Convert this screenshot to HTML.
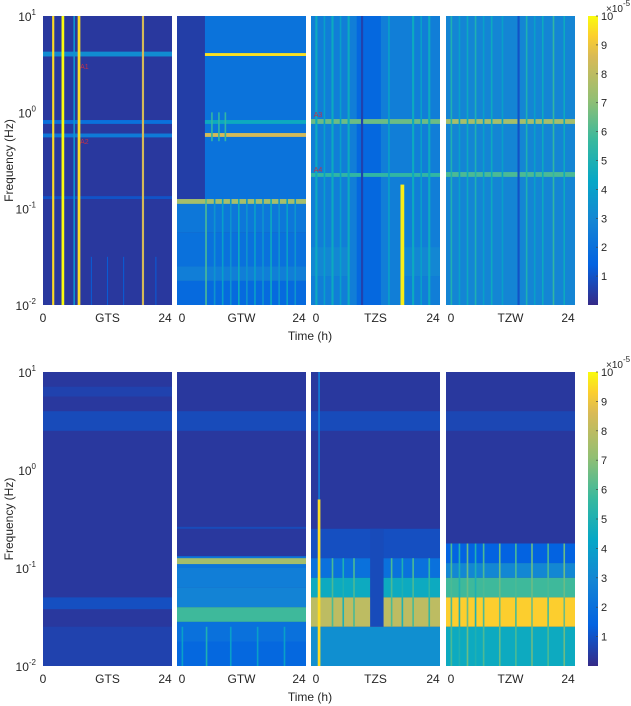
<!DOCTYPE html>
<html><head><meta charset="utf-8"><style>
html,body{margin:0;padding:0;background:#fff;}
svg{display:block;font-family:"Liberation Sans",sans-serif;}
</style></head><body>
<svg id="fig" width="631" height="706" viewBox="0 0 631 706" xmlns="http://www.w3.org/2000/svg">
<defs>
<linearGradient id="parula" x1="0" y1="1" x2="0" y2="0">
<stop offset="0" stop-color="#352a87"/><stop offset="0.14" stop-color="#0363e1"/>
<stop offset="0.29" stop-color="#1485d4"/><stop offset="0.43" stop-color="#06a7c6"/>
<stop offset="0.57" stop-color="#38b99e"/><stop offset="0.71" stop-color="#92bf73"/>
<stop offset="0.86" stop-color="#d9ba56"/><stop offset="0.93" stop-color="#fcce2e"/>
<stop offset="1" stop-color="#f9fb0e"/>
</linearGradient>
</defs>
<g id="plots"></g>
</svg>
<script>
// ---- data (time in h, frequency as log10 Hz, value in 1e-5 units) ----
const panelNames = ["GTS","GTW","TZS","TZW"];
const timeTicks = ["0","24"];
const freqTicks = [1,0,-1,-2];
const cbarTicks = [1,2,3,4,5,6,7,8,9,10];
// bands: [logLow, logHigh, value, tStart, tEnd]
const topGTSBands = [[-2,1,0.35,0,24],[0.58,0.63,3.2,0,24],[-0.12,-0.08,2.0,0,24],[-0.26,-0.22,2.4,0,24],[-0.9,-0.87,1.0,0,24]];
const topGTWBands = [[-2,1,0.5,0,24],[-0.9,1,2.1,5.2,24],[0.585,0.615,9.6,5.2,24],[-0.12,-0.08,4.5,5.2,24],[-0.255,-0.215,8.5,5.2,24],[-1.25,-0.9,2.3,0,24],[-0.95,-0.9,7.5,0,24],[-1.6,-1.25,2.0,0,24],[-1.75,-1.6,2.6,0,24],[-2,-1.75,1.7,0,24]];
const topTZSBands = [[-2,1,2.6,0,24],[-2,1,1.6,8.5,13],[-0.12,-0.07,6.5,0,24],[-0.67,-0.63,5.5,0,24],[-1.7,-1.4,3.0,0,7],[-1.7,-1.4,3.0,17,24]];
const topTZWBands = [[-2,1,2.9,0,24],[-0.12,-0.07,7.5,0,24],[-0.67,-0.62,6,0,24]];
const botGTSBands = [[-2,1,0.35,0,24],[0.4,0.6,0.8,0,24],[0.75,0.85,0.6,0,24],[-1.42,-1.3,0.9,0,24],[-2,-1.6,0.6,0,24]];
const botGTWBands = [[-2,1,0.35,0,24],[0.4,0.6,0.8,0,24],[-0.6,-0.58,0.8,0,24],[-1.0,-0.88,2.2,0,24],[-0.96,-0.9,7.5,0,24],[-1.2,-1.0,2.6,0,24],[-1.4,-1.2,2.8,0,24],[-1.55,-1.4,5.8,0,24],[-1.75,-1.55,2.0,0,24],[-2,-1.75,1.6,0,24]];
const botTZSBands = [[-2,1,0.35,0,24],[0.4,0.6,0.8,0,24],[-0.9,-0.6,0.9,0,24],[-1.1,-0.9,2.0,0,24],[-1.3,-1.1,4.5,0,24],[-1.6,-1.3,8.0,0,24],[-2,-1.6,3.3,0,24],[-1.6,-0.6,0.8,11,13.5]];
const botTZWBands = [[-2,1,0.35,0,24],[0.4,0.6,0.7,0,24],[-0.95,-0.75,1.4,0,24],[-1.1,-0.95,3.0,0,24],[-1.3,-1.1,5.8,0,24],[-1.6,-1.3,9.3,0,24],[-2,-1.6,4.5,0,24]];
// lines: [t, widthHours, value, logLow, logHigh]
const topGTSLines = [[1.9,0.4,9.5,-2,1],[3.7,0.5,10,-2,1],[5.8,0.3,3.5,-2,1],[6.7,0.5,9.5,-2,1],[18.6,0.4,8.5,-2,1],[9,0.2,1.2,-2,-1.5],[12,0.2,1.2,-2,-1.5],[15,0.2,1.2,-2,-1.5],[21,0.2,1.2,-2,-1.5]];
const topGTWLines = [[5.4,0.3,6,-2,-0.9],[7,0.3,3.5,-2,-0.9],[8.5,0.3,4,-2,-0.9],[10,0.3,3.5,-2,-0.9],[11.5,0.3,4.5,-2,-0.9],[13,0.3,3.5,-2,-0.9],[14.5,0.3,4,-2,-0.9],[16,0.3,3.5,-2,-0.9],[17.5,0.3,4.5,-2,-0.9],[19,0.3,3.5,-2,-0.9],[20.5,0.3,4,-2,-0.9],[22,0.3,3.5,-2,-0.9],[6.5,0.3,5.5,-0.3,0],[7.8,0.3,5.5,-0.3,0],[9,0.3,5.5,-0.3,0]];
const topTZSLines = [[1,0.4,4.5,-2,1],[2.5,0.3,4,-2,1],[4,0.4,4.5,-2,1],[5.5,0.3,4,-2,1],[7,0.4,4.5,-2,1],[14.5,0.3,4,-2,1],[19,0.4,4.5,-2,1],[20.5,0.3,4,-2,1],[22,0.4,4.5,-2,1],[9.5,0.4,0.6,-2,1],[17,0.7,9.8,-2,-0.75]];
const topTZWLines = [[1,0.3,5,-2,1],[2.5,0.3,4,-2,1],[4,0.3,4.5,-2,1],[5.5,0.3,5,-2,1],[7,0.3,4,-2,1],[8.5,0.3,4.5,-2,1],[10.5,0.3,4,-2,1],[13.5,0.4,1.0,-2,1],[15,0.3,5,-2,1],[16.5,0.3,4,-2,1],[18,0.3,4.5,-2,1],[20,0.3,5.5,-2,1],[22,0.3,4.5,-2,1]];
const botGTSLines = [];
const botGTWLines = [[1,0.3,4,-2,-1.6],[5.5,0.3,5,-2,-1.6],[10,0.3,4,-2,-1.6],[15,0.3,4,-2,-1.6],[20,0.3,4,-2,-1.6]];
const botTZSLines = [[1.5,0.5,9.5,-2,-0.3],[1.5,0.3,2.5,-0.3,1],[4,0.3,6,-1.6,-0.9],[6,0.3,5,-1.6,-0.9],[8,0.3,6,-1.6,-0.9],[15,0.3,6,-1.6,-0.9],[17,0.3,5,-1.6,-0.9],[19,0.3,6,-1.6,-0.9],[22,0.3,5.5,-1.6,-0.9]];
const botTZWLines = [[1,0.3,6,-2,-0.75],[2.5,0.3,5,-2,-0.75],[4,0.3,6.5,-2,-0.75],[5.5,0.3,5,-2,-0.75],[7,0.3,6,-2,-0.75],[10,0.3,6.5,-2,-0.75],[13,0.3,6,-2,-0.75],[16,0.3,6.5,-2,-0.75],[19,0.3,6,-2,-0.75],[22,0.3,6.5,-2,-0.75]];
const markerLabels = [["A1",0,6.9,0.45],["A2",0,6.9,-0.33],["A3",2,0.5,-0.05],["A4",2,0.5,-0.62]];

const rows = [
  {y0:16,y1:305,bands:[topGTSBands,topGTWBands,topTZSBands,topTZWBands],lines:[topGTSLines,topGTWLines,topTZSLines,topTZWLines]},
  {y0:372,y1:666,bands:[botGTSBands,botGTWBands,botTZSBands,botTZWBands],lines:[botGTSLines,botGTWLines,botTZSLines,botTZWLines]}
];
const panelLeft=[43,177,311,446], panelW=129;
const stops=[[0,[53,42,135]],[0.14,[3,99,225]],[0.29,[20,133,212]],[0.43,[6,167,198]],[0.57,[56,185,158]],[0.71,[146,191,115]],[0.86,[217,186,86]],[0.93,[252,206,46]],[1,[249,251,14]]];
function color(v){let t=Math.max(0,Math.min(1,v/10));for(let i=1;i<stops.length;i++){if(t<=stops[i][0]){const a=stops[i-1],b=stops[i],f=(t-a[0])/(b[0]-a[0]);const c=a[1].map((x,k)=>Math.round(x+(b[1][k]-x)*f));return `rgb(${c})`;}}return 'rgb(249,251,14)';}
const NS="http://www.w3.org/2000/svg";
const G=document.getElementById('plots');
function el(tag,attrs,parent){const e=document.createElementNS(NS,tag);for(const k in attrs)e.setAttribute(k,attrs[k]);(parent||G).appendChild(e);return e;}
function xs(p,t){return panelLeft[p]+t/24*panelW;}
function ys(r,lf){return r.y1-(lf+2)/3*(r.y1-r.y0);}
function sup(parent,x,y,base,exp,anchor){const t=el('text',{x:x,y:y,'font-size':12,fill:'#262626','text-anchor':anchor||'end'},parent);t.appendChild(document.createTextNode(base));const s=el('tspan',{'font-size':8,dy:-6},t);s.textContent=exp;return t;}

rows.forEach((r,ri)=>{
  const rowG=el('g',{});
  
  
  for(let p=0;p<4;p++){
    const pg=el('g',{},rowG);
    
    
    r.bands[p].forEach(b=>{
      const rc=el('rect',{x:xs(p,b[3]),y:ys(r,b[1]),width:xs(p,b[4])-xs(p,b[3]),height:ys(r,b[0])-ys(r,b[1]),fill:color(b[2])},pg);
      
      
    });
    r.lines[p].forEach(l=>{
      const rc=el('rect',{x:xs(p,l[0]-l[1]/2),y:ys(r,l[4]),width:Math.max(1,xs(p,l[1])-xs(p,0)),height:ys(r,l[3])-ys(r,l[4]),fill:color(l[2])},pg);
      
      
    });
    const lab=el('text',{x:xs(p,12),y:r.y1+17,'font-size':12,fill:'#262626','text-anchor':'middle'},pg);
    lab.textContent=panelNames[p];
    
    
    const t0=el('text',{x:xs(p,0)+(p?5:0),y:r.y1+17,'font-size':12,fill:'#262626','text-anchor':'middle'},pg);
    t0.textContent=timeTicks[0];
    
    
    const t1=el('text',{x:xs(p,24)-7,y:r.y1+17,'font-size':12,fill:'#262626','text-anchor':'middle'},pg);
    t1.textContent=timeTicks[1];
    
    
  }
  freqTicks.forEach(f=>{
    const t=sup(rowG,36,ys(r,f)+5,'10',String(f));
    
    
  });
  const yt=el('text',{x:0,y:0,'font-size':12,fill:'#262626','text-anchor':'middle',transform:`translate(13,${(r.y0+r.y1)/2}) rotate(-90)`},rowG);
  yt.textContent='Frequency (Hz)';
  
  
  const xt=el('text',{x:310,y:r.y1+35,'font-size':12,fill:'#262626','text-anchor':'middle'},rowG);
  xt.textContent='Time (h)';
  
  
  const cb=el('rect',{x:588,y:r.y0,width:10,height:r.y1-r.y0,fill:'url(#parula)'},rowG);
  
  
  cbarTicks.forEach(v=>{
    const yy=r.y1-v/10*(r.y1-r.y0);
    const tk=el('line',{x1:596,x2:598,y1:yy,y2:yy,stroke:'#444','stroke-width':0.7},rowG);
    
    
    const tl=el('text',{x:601,y:yy+4,'font-size':11,fill:'#262626'},rowG);
    tl.textContent=String(v);
    
    
  });
  const ex=sup(rowG,606,r.y0-4,'×10','-5','start');
  ex.setAttribute('font-size',10);
  
  
});
markerLabels.forEach(m=>{
  const t=el('text',{x:xs(m[1],m[2]),y:ys(rows[0],m[3]),'font-size':7,fill:'#c0304a'});
  t.textContent=m[0];
  
  
});
</script>
</body></html>
